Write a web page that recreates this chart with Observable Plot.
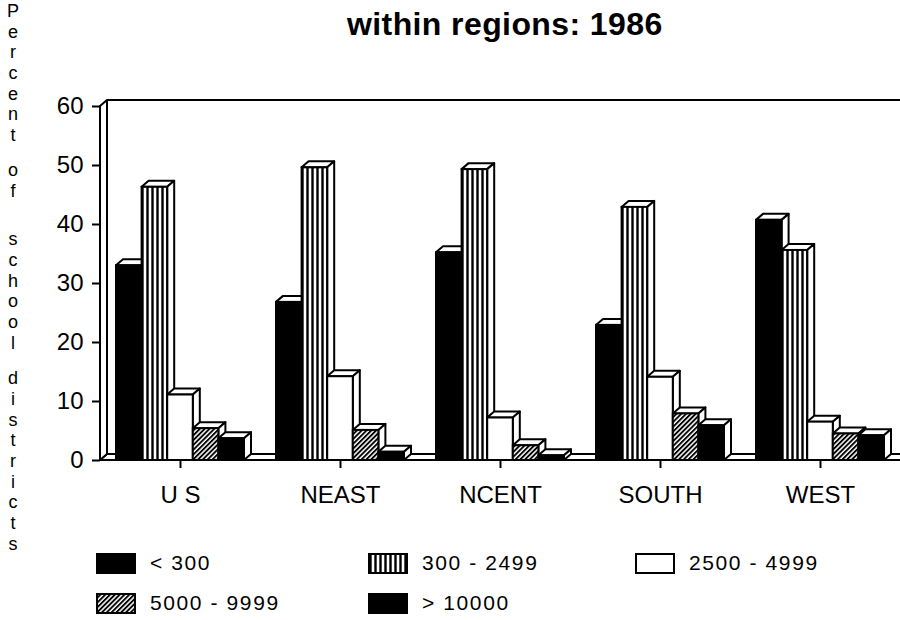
<!DOCTYPE html>
<html>
<head>
<meta charset="utf-8">
<script src="https://cdn.jsdelivr.net/npm/d3@7"></script>
<script src="https://cdn.jsdelivr.net/npm/@observablehq/plot@0.6"></script>
<style>
  body { margin: 0; background: #fff; color: #000; font-family: "Liberation Sans", Arial, Helvetica, sans-serif; }
  #wrap { position: relative; width: 900px; height: 620px; overflow: hidden; background: #fff; }
  #title { position: relative; height: 60px; }
  #title span { position: absolute; left: 347px; top: 6px; font-weight: bold; font-size: 32px; letter-spacing: 0.4px; white-space: nowrap; }
  #ylabel { position: absolute; left: 4px; top: 1px; width: 18px; font-size: 18px; text-align: center; z-index: 2; }
  #ylabel div { height: 20.7px; line-height: 20.7px; }
  #chart { height: 470px; }
  #chart svg { display: block; }
  #legend { position: relative; height: 90px; }
  .item { position: absolute; display: flex; align-items: center; font-size: 21px; letter-spacing: 1.6px; height: 22px; white-space: nowrap; }
  .item svg { margin-right: 14px; }
</style>
</head>
<body>
<svg width="0" height="0" style="position:absolute">
  <defs>
    <pattern id="vstripe" patternUnits="userSpaceOnUse" width="5" height="10">
      <rect width="5" height="10" fill="white"></rect>
      <rect x="1.3" width="2.4" height="10" fill="black"></rect>
    </pattern>
    <pattern id="hatch" patternUnits="userSpaceOnUse" width="3.4" height="3.4" patternTransform="rotate(45)">
      <rect width="3.4" height="3.4" fill="white"></rect>
      <rect width="1.9" height="3.4" fill="black"></rect>
    </pattern>
  </defs>
</svg>
<div id="wrap">
  <div id="ylabel"></div>
  <div id="title"><span></span></div>
  <div id="chart"></div>
  <div id="legend"></div>
</div>
<script>
// ---- data ----
const title = "within regions: 1986";
const yLabel = "Percent of school districts";
const categories = ["US", "NEAST", "NCENT", "SOUTH", "WEST"];
const categoryLabels = ["U S", "NEAST", "NCENT", "SOUTH", "WEST"];
const series = ["< 300", "300 - 2499", "2500 - 4999", "5000 - 9999", "> 10000"];
const under300   = [33.0, 26.8, 35.2, 22.9, 40.7];
const from300    = [46.3, 49.6, 49.3, 42.9, 35.6];
const from2500   = [11.1, 14.2, 7.2, 14.1, 6.5];
const from5000   = [5.4, 5.1, 2.5, 7.9, 4.5];
const over10000  = [3.7, 1.4, 0.8, 5.9, 4.2];
const yTicks = [0, 10, 20, 30, 40, 50, 60];

// ---- styles ----
const seriesValues = [under300, from300, from2500, from5000, over10000];
const fills = ["black", "url(#vstripe)", "white", "url(#hatch)", "black"];
const GROUP_PAD = 0.1;          // fraction of a group slot left empty on each side
const BAR_W = (1 - 2 * GROUP_PAD) / series.length;
const DX = 7, DY = -6;          // 3-D depth offset in pixels
const SW = 2;

const rows = [];
categories.forEach((c, i) => {
  series.forEach((s, j) => {
    const x1 = i + GROUP_PAD + j * BAR_W;
    rows.push({region: c, size: s, i, j, value: seriesValues[j][i], x1, x2: x1 + BAR_W});
  });
});

// title & y label
document.querySelector("#title span").textContent = title;
const yl = document.getElementById("ylabel");
const words = yLabel.split(" ");
const gaps = [14, 28, 15];
words.forEach((w, k) => {
  for (const ch of w) {
    const d = document.createElement("div");
    d.textContent = ch;
    yl.appendChild(d);
  }
  if (k < words.length - 1) {
    const sp = document.createElement("div");
    sp.style.height = gaps[k] + "px";
    yl.appendChild(sp);
  }
});

// 3-D faces (floor, wall, top and side faces of the bars)
function depthMark(index, scales, values, dims) {
  const x = scales.x, y = scales.y;
  const g = d3.create("svg:g")
    .attr("fill", "white").attr("stroke", "black")
    .attr("stroke-width", SW).attr("stroke-linejoin", "round");
  const y0 = y(0), yTop = y(yTicks[yTicks.length - 1]);
  const xL = x(0), xR = x(categories.length);
  // floor
  g.append("path").attr("d", `M${xL},${y0}L${xR + DX},${y0}L${xR + DX},${y0 + DY}L${xL + DX},${y0 + DY}Z`);
  // left wall
  g.append("path").attr("d", `M${xL},${y0}L${xL},${yTop}L${xL + DX},${yTop + DY}L${xL + DX},${y0 + DY}Z`);
  // back top edge
  g.append("path").attr("fill", "none").attr("d", `M${xL + DX},${yTop + DY}L${xR + DX},${yTop + DY}`);
  // bar faces
  for (const r of rows) {
    const a = x(r.x1), b = x(r.x2), v = y(r.value);
    g.append("path").attr("d", `M${a},${v}L${a + DX},${v + DY}L${b + DX},${v + DY}L${b},${v}Z`);
    g.append("path").attr("d", `M${b},${v}L${b + DX},${v + DY}L${b + DX},${y0 + DY}L${b},${y0}Z`);
  }
  return g.node();
}

const chart = Plot.plot({
  width: 900,
  height: 470,
  marginTop: 46,
  marginBottom: 70,
  marginLeft: 100,
  marginRight: 0,
  style: {fontFamily: "'Liberation Sans', Arial, Helvetica, sans-serif", color: "black", background: "white", overflow: "visible"},
  x: {domain: [0, categories.length]},
  y: {domain: [yTicks[0], yTicks[yTicks.length - 1]]},
  marks: [
    depthMark,
    ...series.map((s, j) => Plot.rectY(rows.filter(r => r.j === j), {
      x1: "x1", x2: "x2", y1: 0, y2: "value",
      fill: fills[j], stroke: "black", strokeWidth: SW
    })),
    Plot.axisY({ticks: yTicks, tickSize: 8, tickPadding: 9, fontSize: 24, strokeWidth: SW, label: null}),
    Plot.axisX({ticks: categories.map((c, i) => i + 0.5), tickFormat: d => categoryLabels[Math.floor(d)],
      tickSize: 8, tickPadding: 17, fontSize: 24, strokeWidth: SW, label: null})
  ]
});
document.getElementById("chart").appendChild(chart);

// legend
const legend = document.getElementById("legend");
const colX = [96, 368, 635];
const rowY = [22, 62];
series.forEach((s, k) => {
  const item = document.createElement("div");
  item.className = "item";
  item.style.left = colX[k % 3] + "px";
  item.style.top = rowY[Math.floor(k / 3)] + "px";
  const sw = d3.create("svg").attr("width", 40).attr("height", 21);
  sw.append("rect").attr("x", 1).attr("y", 1).attr("width", 38).attr("height", 19)
    .attr("fill", fills[k]).attr("stroke", "black").attr("stroke-width", SW);
  item.appendChild(sw.node());
  const t = document.createElement("span");
  t.textContent = s;
  item.appendChild(t);
  legend.appendChild(item);
});
</script>
</body>
</html>
